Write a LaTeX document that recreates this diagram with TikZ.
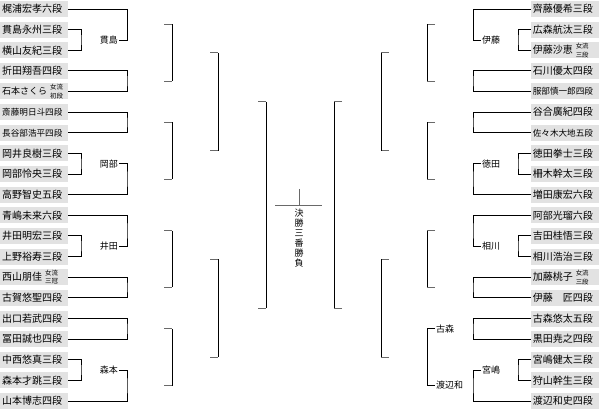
\documentclass[tikz,border=0pt]{standalone}
\usepackage{fontspec}
\setmainfont{Noto Sans CJK JP}
\definecolor{boxgray}{RGB}{226,226,226}
\definecolor{stubgray}{RGB}{105,105,105}
\newcommand\joryu[1]{\hspace{3pt}\raisebox{-3.4pt}{\fontsize{6.4}{6.4}\selectfont\shortstack[l]{女流\\#1}}}
\newcommand\brkL[3]{\draw[stub] (#1-8,#2) -- (#1,#2); \draw[stub] (#1-8,#3) -- (#1,#3); \draw[conn] (#1,#2) -- (#1,#3);}
\newcommand\brkR[3]{\draw[stub] (#1+8,#2) -- (#1,#2); \draw[stub] (#1+8,#3) -- (#1,#3); \draw[conn] (#1,#2) -- (#1,#3);}
\begin{document}
\begin{tikzpicture}[x=1pt,y=-1pt,
  nbox/.style={fill=boxgray, minimum height=16pt, text width=64pt, inner xsep=2pt, inner ysep=0pt,
    font=\fontsize{10}{10}\selectfont, align=left},
  nsmall/.style={nbox, font=\fontsize{8.6}{8.6}\selectfont},
  lab/.style={inner sep=1pt, font=\fontsize{9}{9}\selectfont},
  conn/.style={line width=0.9pt, black},
  stub/.style={line width=0.9pt, stubgray}]
\useasboundingbox (0,0) rectangle (599,411);
% left entrants
\node[nbox,anchor=west] (L1) at (0,9.0) {梶浦宏孝六段};
\node[nbox,anchor=west] (L2) at (0,29.6) {貫島永州三段};
\node[nbox,anchor=west] (L3) at (0,50.3) {横山友紀三段};
\node[nbox,anchor=west] (L4) at (0,70.9) {折田翔吾四段};
\node[nbox,anchor=west] (L5) at (0,91.5) {\mbox{{\fontsize{9}{9}\selectfont 石本さくら}\joryu{初段}}};
\node[nsmall,anchor=west] (L6) at (0,112.2) {斎藤明日斗四段};
\node[nsmall,anchor=west] (L7) at (0,132.8) {長谷部浩平四段};
\node[nbox,anchor=west] (L8) at (0,153.4) {岡井良樹三段};
\node[nbox,anchor=west] (L9) at (0,174.0) {岡部怜央三段};
\node[nbox,anchor=west] (L10) at (0,194.7) {高野智史五段};
\node[nbox,anchor=west] (L11) at (0,215.3) {青嶋未来六段};
\node[nbox,anchor=west] (L12) at (0,235.9) {井田明宏三段};
\node[nbox,anchor=west] (L13) at (0,256.6) {上野裕寿三段};
\node[nbox,anchor=west] (L14) at (0,277.2) {\mbox{西山朋佳\joryu{三冠}}};
\node[nbox,anchor=west] (L15) at (0,297.8) {古賀悠聖四段};
\node[nbox,anchor=west] (L16) at (0,318.5) {出口若武四段};
\node[nbox,anchor=west] (L17) at (0,339.1) {冨田誠也四段};
\node[nbox,anchor=west] (L18) at (0,359.7) {中西悠真三段};
\node[nbox,anchor=west] (L19) at (0,380.3) {森本才跳三段};
\node[nbox,anchor=west] (L20) at (0,401.0) {山本博志四段};
% right entrants
\node[nbox,anchor=east] (R1) at (599,9.0) {齊藤優希三段};
\node[nbox,anchor=east] (R2) at (599,29.6) {広森航汰三段};
\node[nbox,anchor=east] (R3) at (599,50.3) {\mbox{伊藤沙恵\joryu{三段}}};
\node[nbox,anchor=east] (R4) at (599,70.9) {石川優太四段};
\node[nsmall,anchor=east] (R5) at (599,91.5) {服部慎一郎四段};
\node[nbox,anchor=east] (R6) at (599,112.2) {谷合廣紀四段};
\node[nsmall,anchor=east] (R7) at (599,132.8) {佐々木大地五段};
\node[nbox,anchor=east] (R8) at (599,153.4) {徳田拳士三段};
\node[nbox,anchor=east] (R9) at (599,174.0) {柵木幹太三段};
\node[nbox,anchor=east] (R10) at (599,194.7) {増田康宏六段};
\node[nbox,anchor=east] (R11) at (599,215.3) {阿部光瑠六段};
\node[nbox,anchor=east] (R12) at (599,235.9) {吉田桂悟三段};
\node[nbox,anchor=east] (R13) at (599,256.6) {相川浩治三段};
\node[nbox,anchor=east] (R14) at (599,277.2) {\mbox{加藤桃子\joryu{三段}}};
\node[nbox,anchor=east] (R15) at (599,297.8) {伊藤　匠四段};
\node[nbox,anchor=east] (R16) at (599,318.5) {古森悠太五段};
\node[nbox,anchor=east] (R17) at (599,339.1) {黒田尭之四段};
\node[nbox,anchor=east] (R18) at (599,359.7) {宮嶋健太三段};
\node[nbox,anchor=east] (R19) at (599,380.3) {狩山幹生三段};
\node[nbox,anchor=east] (R20) at (599,401.0) {渡辺和史四段};
% first-round winner labels
\node[lab,anchor=east] (gL1) at (119,40.0) {貫島};
\node[lab,anchor=east] (gL2) at (119,163.7) {岡部};
\node[lab,anchor=east] (gL3) at (119,246.2) {井田};
\node[lab,anchor=east] (gL4) at (119,370.0) {森本};
\node[lab,anchor=west] (gR1) at (481,40.0) {伊藤};
\node[lab,anchor=west] (gR2) at (481,163.7) {徳田};
\node[lab,anchor=west] (gR3) at (481,246.2) {相川};
\node[lab,anchor=west] (gR4) at (481,370.0) {宮嶋};
\node[lab,anchor=west] (wK) at (435,328.8) {古森};
\node[lab,anchor=west] (wW) at (435,385.5) {渡辺和};
% left first round
\draw[conn] (L1.east) -- (127,9.0) |- (gL1.east);
\draw[conn] (L2.east) -| (81,40.0) |- (L3.east);
\draw[conn] (L4.east) -| (127,81.2) |- (L5.east);
\draw[conn] (L6.east) -| (127,122.5) |- (L7.east);
\draw[conn] (L8.east) -| (81,163.7) |- (L9.east);
\draw[conn] (gL2.east) -| (127,179.2) |- (L10.east);
\draw[conn] (L11.east) -| (127,230.8) |- (gL3.east);
\draw[conn] (L12.east) -| (81,246.2) |- (L13.east);
\draw[conn] (L14.east) -| (127,287.5) |- (L15.east);
\draw[conn] (L16.east) -| (127,328.8) |- (L17.east);
\draw[conn] (L18.east) -| (81,370.0) |- (L19.east);
\draw[conn] (gL4.east) -| (127,385.5) |- (L20.east);
% right first round
\draw[conn] (R1.west) -- (473,9.0) |- (gR1.west);
\draw[conn] (R2.west) -| (518,40.0) |- (R3.west);
\draw[conn] (R4.west) -| (473,81.2) |- (R5.west);
\draw[conn] (R6.west) -| (473,122.5) |- (R7.west);
\draw[conn] (R8.west) -| (518,163.7) |- (R9.west);
\draw[conn] (gR2.west) -| (473,179.2) |- (R10.west);
\draw[conn] (R11.west) -| (473,230.8) |- (gR3.west);
\draw[conn] (R12.west) -| (518,246.2) |- (R13.west);
\draw[conn] (R14.west) -| (473,287.5) |- (R15.west);
\draw[conn] (R16.west) -| (473,328.8) |- (R17.west);
\draw[conn] (R18.west) -| (518,370.0) |- (R19.west);
\draw[conn] (gR4.west) -| (473,385.5) |- (R20.west);
% later rounds, left
\brkL{172}{24.5}{81.2}
\brkL{172}{122.5}{179.2}
\brkL{172}{230.8}{287.5}
\brkL{172}{328.8}{385.5}
\brkL{218}{52.9}{150.9}
\brkL{218}{259.2}{357.2}
\brkL{266}{101.9}{308.2}
% later rounds, right
\brkR{427}{24.5}{81.2}
\brkR{427}{122.5}{179.2}
\brkR{427}{230.8}{287.5}
\draw[conn] (wK.west) -- (427,328.8) -- (427,385.5) -- (wW.west);
\brkR{381}{52.9}{150.9}
\brkR{381}{259.2}{357.2}
\brkR{334}{101.9}{308.2}
% final
\coordinate (fL) at (275,205.5);
\coordinate (fR) at (322,205.5);
\coordinate (fT) at (299,189);
\coordinate (fM) at (299,205.5);
\draw[stub] (fL) -- (fR);
\draw[stub] (fT) -- (fM);
\node[anchor=north, inner sep=0pt, align=center, font=\fontsize{9}{10}\selectfont] (fin) at (299,209) {決\\勝\\三\\番\\勝\\負};
\end{tikzpicture}
\end{document}
